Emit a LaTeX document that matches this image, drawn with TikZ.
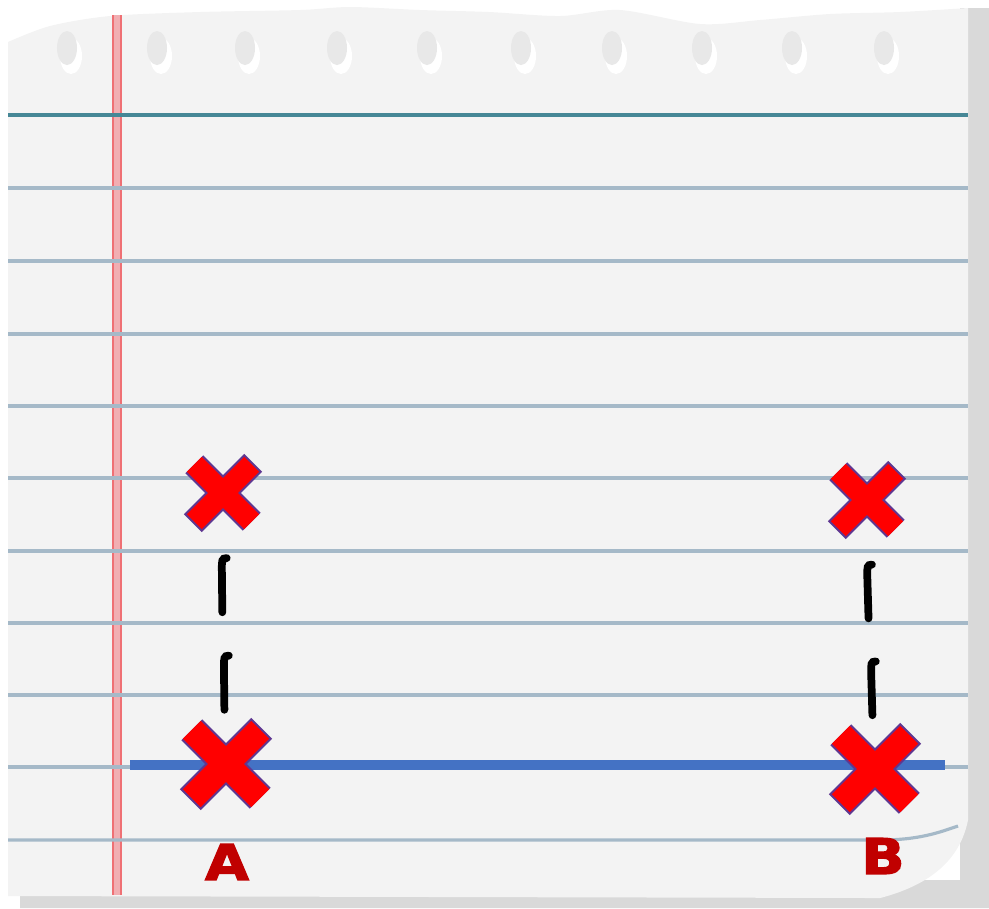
\documentclass[tikz,border=0pt]{standalone}
\usepackage{fontspec}
\newfontfamily\labfont[BoldFeatures={FakeBold=2.5}]{DejaVu Sans}
\usetikzlibrary{calc}
\definecolor{rulecol}{RGB}{165,185,200}
\definecolor{topcol}{RGB}{70,135,150}
\definecolor{margcol}{RGB}{235,140,145}
\definecolor{xred}{RGB}{255,0,0}
\definecolor{xrim}{RGB}{95,55,145}
\definecolor{basecol}{RGB}{68,114,196}
\definecolor{labred}{RGB}{192,0,0}
\definecolor{paper}{RGB}{243,243,243}

\begin{document}
\begin{tikzpicture}[x=0.01cm,y=-0.01cm,
  xnode/.style={inner sep=0pt,minimum size=#1},
  rule/.style={rulecol,line width=0.9pt},
  inkln/.style={line width=2.2pt,line cap=round},
  baseln/.style={basecol,line width=2.6pt},
  lab/.style={text=labred,font=\labfont\bfseries\fontsize{14}{14}\selectfont,inner sep=0pt,xscale=1.15}]
\useasboundingbox (0,0) rectangle (989,908);
% shadow and sheet
\fill[gray!30] (960,8) -- (989,8) -- (989,908) -- (20,908) -- (20,880) -- (960,880) -- cycle;
\fill[paper] plot[smooth] coordinates {(8,42) (50,26) (110,16) (200,12) (300,10) (350,7) (420,10) (489,12) (560,16) (620,10) (700,24) (760,20) (830,14) (900,12) (968,8)}
  -- (968,820) .. controls (960,860) and (930,885) .. (880,898) -- (8,896) -- cycle;
\foreach \h in {67,157,245,337,427,521,612,702,792,884}{
  \fill[white] (\h+4,56) ellipse[x radius=0.11cm,y radius=0.18cm];
  \fill[gray!18] (\h,48) ellipse[x radius=0.1cm,y radius=0.17cm];
}
% margin and rules
\fill[margcol!70] (112,15) rectangle (122,895);
\draw[margcol!80!red,line width=0.6pt] (113,15) -- (113,895) (121,15) -- (121,895);
\draw[topcol,line width=1pt] (8,115) -- (968,115);
\foreach \y in {188,261,334,406,478,551,623,695,767}{\draw[rule] (8,\y) -- (968,\y);}
\draw[rule] (8,840) -- (880,840) .. controls (920,840) and (940,832) .. (958,826);

\node[xnode=0.56cm] (xa1) at (223,493) {};
\node[xnode=0.56cm] (xb1) at (867,500) {};
\node[xnode=0.67cm] (xa2) at (226,764) {};
\node[xnode=0.67cm] (xb2) at (875,769) {};
\coordinate (bl) at (130,765);
\coordinate (br) at (945,765);
\draw[baseln] (bl) -- (br);

\foreach \n/\w in {xa1/6pt,xb1/6pt,xa2/7.2pt,xb2/7.2pt}{
  \draw[xrim,line width=\w+1.2pt,shorten <=-0.6pt,shorten >=-0.6pt] (\n.north west) -- (\n.south east) (\n.north east) -- (\n.south west);
  \draw[xred,line width=\w] (\n.north west) -- (\n.south east) (\n.north east) -- (\n.south west);
}
% hand drawn dashes
\foreach \a/\b in {xa1/xa2,xb1/xb2}{
  \draw[inkln] ($(\a)!0.24!(\b)+(3,0)$) .. controls +(-5,0) and +(0,-8) .. ($(\a)!0.28!(\b)+(-2,0)$) -- ($(\a)!0.44!(\b)+(-2,0)$);
  \draw[inkln] ($(\a)!0.60!(\b)+(4,0)$) .. controls +(-5,0) and +(0,-8) .. ($(\a)!0.64!(\b)+(-1,0)$) -- ($(\a)!0.80!(\b)+(-1,0)$);
}
\node[lab] (labA) at (227,862) {A};
\node[lab] (labB) at (883,856) {B};
\end{tikzpicture}
\end{document}
